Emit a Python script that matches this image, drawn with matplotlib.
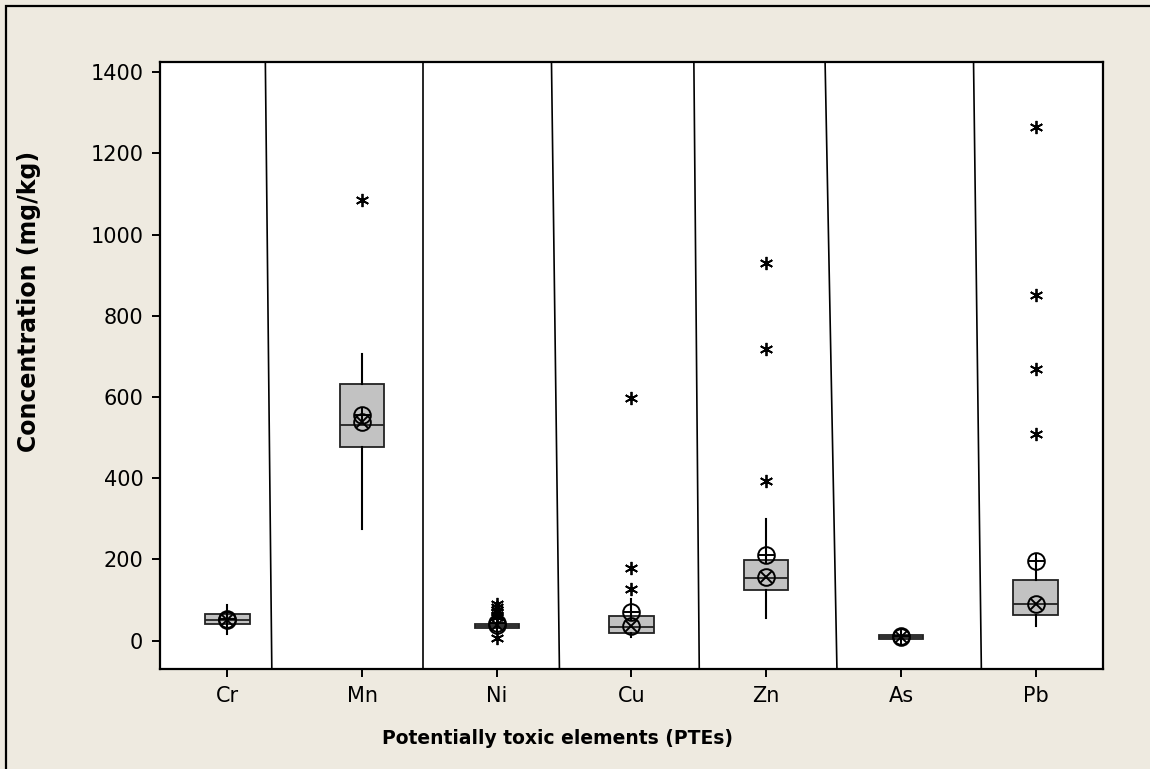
import numpy as np
import matplotlib.pyplot as plt
from matplotlib.patches import Rectangle

plt.rcParams['font.family'] = ['DejaVu Sans']

elements = ['Cr', 'Mn', 'Ni', 'Cu', 'Zn', 'As', 'Pb']
q1 = [40, 477, 31, 19, 124, 5, 64]
median = [50, 532, 36, 34, 155, 9, 91]
q3 = [65, 632, 41, 60, 198, 14, 149]
whis_lo = [16, 276, 15, 8, 56, 2, 36]
whis_hi = [88, 705, 56, 102, 299, 21, 200]
outliers = [
    [],
    [1085],
    [58, 64, 70, 76, 82, 90, 6],
    [598, 178, 127],
    [929, 718, 393],
    [],
    [1265, 852, 670, 508],
]
mean_plus = [53, 555, 43, 71, 211, 12, 195]     # circle with plus
mean_cross = [50, 539, 38, 37, 157, 10, 91]     # circle with cross
yticks = [0, 200, 400, 600, 800, 1000, 1200, 1400]

BG = '#EEEAE0'
W, H = 1150, 769

fig = plt.figure(figsize=(W / 100, H / 100), dpi=100, facecolor=BG)
ax = fig.add_axes([160 / W, 1 - 669 / H, 943 / W, 607 / H])

stats = []
for i in range(len(elements)):
    stats.append(dict(med=median[i], q1=q1[i], q3=q3[i],
                      whislo=whis_lo[i], whishi=whis_hi[i],
                      fliers=outliers[i], label=elements[i]))

pos = np.arange(1, len(elements) + 1)
ax.bxp(stats, positions=pos, widths=0.33, patch_artist=True, showcaps=False,
       boxprops=dict(facecolor='#C2C2C2', edgecolor='#222222', linewidth=1.3),
       medianprops=dict(color='#222222', linewidth=1.3),
       whiskerprops=dict(color='black', linewidth=1.5),
       flierprops=dict(marker=(6, 2, 0), markersize=9.5, markeredgewidth=1.3,
                       markeredgecolor='black', linestyle='none'))

# circle symbols
for vals, inner in ((mean_plus, '+'), (mean_cross, 'x')):
    ax.plot(pos, vals, linestyle='none', marker='o', markersize=12,
            markerfacecolor='none', markeredgecolor='black', markeredgewidth=1.4, zorder=5)
    ax.plot(pos, vals, linestyle='none', marker=inner, markersize=11 if inner == '+' else 8,
            markeredgecolor='black', markeredgewidth=1.4, zorder=5)

ax.set_xlim(0.5, 7.5)
ax.set_ylim(-70, 1425)

# panel separators (slightly slanted, as drawn in the original worksheet graph)
sep_top = [1.282, 2.455, 3.406, 4.463, 5.437, 6.539]
sep_bot = [1.330, 2.455, 3.465, 4.503, 5.525, 6.597]
for xt, xb in zip(sep_top, sep_bot):
    ax.plot([xb, xt], [-70, 1425], color='black', linewidth=1.2, zorder=1)

ax.set_xticks(pos)
ax.set_xticklabels(elements)
ax.set_yticks(yticks)
ax.tick_params(axis='both', labelsize=15, length=6, width=1.4, pad=6, direction='out',
               labelcolor='black')
for s in ax.spines.values():
    s.set_linewidth(1.6)
ax.set_facecolor('white')

fig.text(29 / W, 1 - 301 / H, 'Concentration (mg/kg)', rotation=90, ha='center', va='center',
         fontsize=17, fontweight='bold')
fig.text(557 / W, 1 - 738 / H, 'Potentially toxic elements (PTEs)', ha='center', va='center',
         fontsize=13.5, fontweight='bold')

# outer frame
fig.patches.append(Rectangle((6 / W, -0.1), 1.2, 1.1 - 6 / H, transform=fig.transFigure,
                             fill=False, edgecolor='black', linewidth=1.6))

fig.savefig('out.png', dpi=100, facecolor=BG)
